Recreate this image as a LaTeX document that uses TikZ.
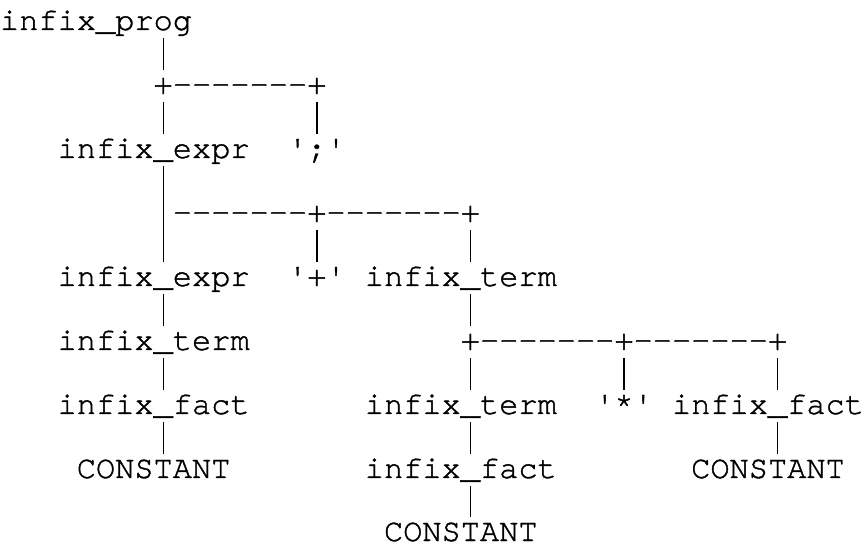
\documentclass[tikz,border=0pt]{standalone}
\usepackage{fontspec}
\setmonofont{texgyrecursor-regular}[Extension=.otf, Ligatures=NoCommon, FakeBold=1.2]
\newcommand{\tlink}[3]{\draw[bar] ([yshift=-8pt]#1.base -| #3) -- ([yshift=24pt]#2.base -| #3);}
\begin{document}
\begin{tikzpicture}[x=1pt,y=1pt,
  lbl/.style={inner sep=0pt, outer sep=0pt, anchor=base west,
              font=\ttfamily\fontsize{32}{32}\selectfont},
  bar/.style={line width=1.4pt, black}]
\useasboundingbox (0,0) rectangle (863,-545);
% column references for the vertical strokes
\coordinate (col8)  at (8.5*19.2,0);
\coordinate (col16) at (16.5*19.2,0);
\coordinate (col24) at (24.5*19.2,0);
\coordinate (col32) at (32.5*19.2,0);
\coordinate (col40) at (40.5*19.2,0);
% labels
\node[lbl] (prog) at (0,-30)          {infix\_prog};
\node[lbl] (j1)   at (8*19.2,-94)     {+-------+};
\node[lbl] (e1)   at (3*19.2,-158)    {infix\_expr};
\node[lbl] (semi) at (15*19.2,-158)   {';'};
\node[lbl] (j2)   at (9*19.2,-222)    {-------+-------+};
\node[lbl] (e2)   at (3*19.2,-286)    {infix\_expr};
\node[lbl] (plus) at (15*19.2,-286)   {'+'};
\node[lbl] (t1)   at (19*19.2,-286)   {infix\_term};
\node[lbl] (t2)   at (3*19.2,-350)    {infix\_term};
\node[lbl] (j3)   at (24*19.2,-350)   {+-------+-------+};
\node[lbl] (f1)   at (3*19.2,-414)    {infix\_fact};
\node[lbl] (t3)   at (19*19.2,-414)   {infix\_term};
\node[lbl] (star) at (31*19.2,-414)   {'*'};
\node[lbl] (f2)   at (35*19.2,-414)   {infix\_fact};
\node[lbl] (c1)   at (4*19.2,-478)    {CONSTANT};
\node[lbl] (f3)   at (19*19.2,-478)   {infix\_fact};
\node[lbl] (c3)   at (36*19.2,-478)   {CONSTANT};
\node[lbl] (c2)   at (20*19.2,-541)   {CONSTANT};
% connectors
\tlink{prog}{j1}{col8}
\tlink{j1}{e1}{col8}
\tlink{j1}{semi}{col16}
\tlink{e1}{e2}{col8}
\tlink{j2}{plus}{col16}
\tlink{j2}{t1}{col24}
\tlink{e2}{t2}{col8}
\tlink{t1}{j3}{col24}
\tlink{t2}{f1}{col8}
\tlink{j3}{t3}{col24}
\tlink{j3}{star}{col32}
\tlink{j3}{f2}{col40}
\tlink{f1}{c1}{col8}
\tlink{t3}{f3}{col24}
\tlink{f2}{c3}{col40}
\tlink{f3}{c2}{col24}
\end{tikzpicture}
\end{document}
